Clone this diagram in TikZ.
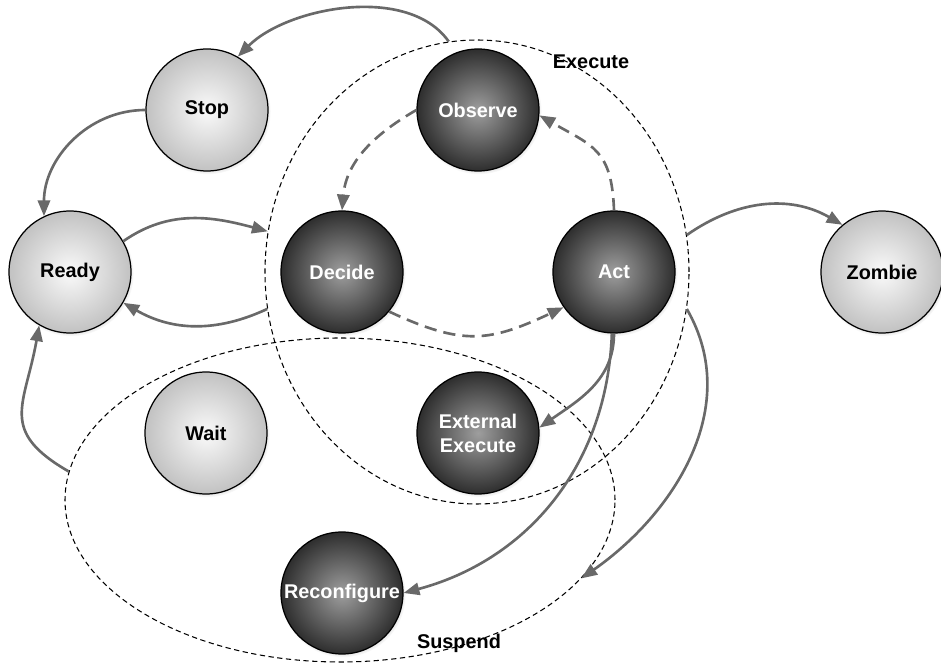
\documentclass[tikz,border=0pt]{standalone}
\usepackage{fontspec}
\setmainfont{Liberation Sans}
\usepackage{tikz}
\usetikzlibrary{arrows.meta,shapes.geometric,shadows}
\definecolor{edgegray}{RGB}{105,105,105}

\tikzset{
  lightstate/.style={circle, draw=black, line width=0.7pt, minimum size=2.44cm, inner sep=0pt,
    inner color=black!2, outer color=black!24, text=black, align=center,
    font=\fontsize{11.3}{13.6}\selectfont\bfseries,
    circular drop shadow={shadow xshift=0.5pt, shadow yshift=-0.8pt, shadow scale=1.03, opacity=0.45}},
  darkstate/.style={lightstate, inner color=black!38, outer color=black!82, text=white},
  region/.style={ellipse, draw=black, line width=0.6pt, dash pattern=on 3pt off 2pt, inner sep=0pt},
  regionlabel/.style={font=\fontsize{11.3}{13.6}\selectfont\bfseries},
  trans/.style={-{Triangle[length=9pt,width=7pt]}, line width=1.5pt, draw=edgegray},
  looptrans/.style={trans, dash pattern=on 7pt off 4pt},
}

\begin{document}
\begin{tikzpicture}
    \useasboundingbox (0,0) rectangle (18.82,13.28);

    % Regions
    \node[region, minimum width=8.48cm, minimum height=9.28cm] (execute) at (9.54,7.84) {};
    \node[region, minimum width=11cm, minimum height=6.48cm] (suspend) at (6.80,3.28) {};
    \node[regionlabel] (executelbl) at (11.82,12.04) {Execute};
    \node[regionlabel] (suspendlbl) at (9.18,0.42) {Suspend};

    % States
    \node[lightstate] (stop) at (4.14,11.08) {Stop};
    \node[lightstate] (ready) at (1.40,7.84) {Ready};
    \node[lightstate] (wait) at (4.12,4.62) {Wait};
    \node[lightstate] (zombie) at (17.64,7.84) {Zombie};
    \node[darkstate] (observe) at (9.56,11.08) {Observe};
    \node[darkstate] (decide) at (6.84,7.84) {Decide};
    \node[darkstate] (act) at (12.28,7.84) {Act};
    \node[darkstate] (extexec) at (9.56,4.62) {External\\Execute};
    \node[darkstate] (reconf) at (6.84,1.42) {Reconfigure};

    % Lifecycle transitions
    \draw[trans] (execute.97) to[out=125, in=45, looseness=0.85] (stop.60);
    \draw[trans] (stop.180) to[out=180, in=90] (ready.115);
    \draw[trans] (ready.30) to[out=35, in=165] (execute.169);
    \draw[trans] (execute.190) to[out=205, in=-30] (ready.-30);
    \draw[trans] (suspend.174) to[out=150, in=-100, looseness=1.4] (ready.240);
    \draw[trans] (execute.10) to[out=35, in=150] (zombie.130);
    \draw[trans] (act.-90) to[out=-90, in=35] (extexec.5);
    \draw[trans] (act.-92) to[out=-92, in=15] (reconf.0);
    \draw[trans] (execute.-10) to[out=-60, in=35] (suspend.-18);

    % Control loop
    \draw[looptrans] (observe.180) to[out=210, in=85] (decide.90);
    \draw[looptrans] (decide.-40) to[out=-25, in=205, looseness=1.2] (act.215);
    \draw[looptrans] (act.90) to[out=92, in=-30, looseness=1.3] (observe.-5);
\end{tikzpicture}
\end{document}
